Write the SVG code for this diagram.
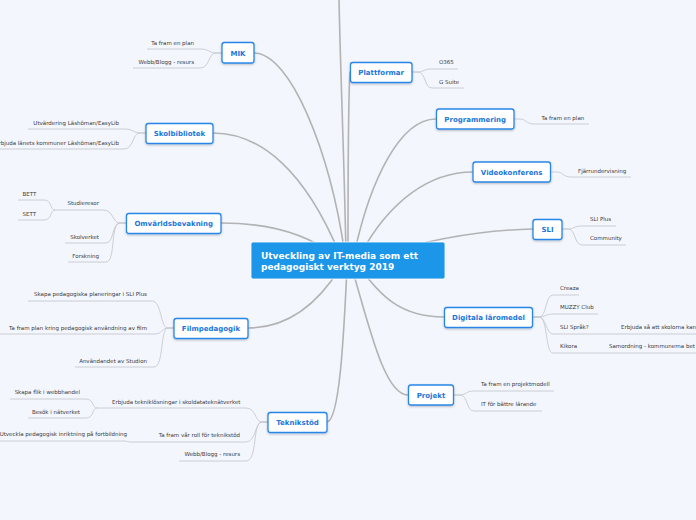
<svg xmlns="http://www.w3.org/2000/svg" width="696" height="520" viewBox="0 0 696 520">
<defs>
<filter id="sh" x="-20%" y="-30%" width="140%" height="170%">
<feDropShadow dx="0" dy="1" stdDeviation="0.8" flood-color="#000" flood-opacity="0.25"/>
</filter>
<style>
.main{fill:none;stroke:#b3b3b3;stroke-width:1.6;stroke-linecap:round}
.sub{fill:none;stroke:#c6c9cf;stroke-width:0.9}
.box{fill:#ffffff;stroke:#2a86e6;stroke-width:1.3}
.lbl{font-family:"DejaVu Sans",Verdana,sans-serif;font-weight:bold;font-size:7px;fill:#1a76d8;text-anchor:middle}
.t{font-family:"DejaVu Sans",Verdana,sans-serif;font-size:5.5px;fill:#3a3a3a}
.e{text-anchor:end}
.ctr{font-family:"DejaVu Sans",Verdana,sans-serif;font-weight:bold;font-size:9px;fill:#ffffff}
</style>
</defs>
<rect width="696" height="520" fill="#f3f6fd"/>
<g id="connectors">
<path class="main" d="M339 -2 C340 60,344 150,346 255"/>
<path class="main" d="M254 53 C290 53,330 150,345 255"/>
<path class="main" d="M213 133 C260 133,305 170,340 255"/>
<path class="main" d="M221 223 C270 223,310 235,338 258"/>
<path class="main" d="M248 328 C290 328,320 300,340 268"/>
<path class="main" d="M327 422 C340 420,344 330,347 268"/>
<path class="main" d="M350 72 C348 100,348 200,348 255"/>
<path class="main" d="M436 119 C400 119,370 180,354 255"/>
<path class="main" d="M473 172 C430 172,390 200,360 255"/>
<path class="main" d="M533 229 C490 230,440 236,380 255"/>
<path class="main" d="M444 317 C400 317,380 295,360 268"/>
<path class="main" d="M408 395 C385 395,370 330,352 268"/>
<path class="sub" d="M222 53 L216 53 C210 53,208 49,201 49 L147 49"/>
<path class="sub" d="M222 53 L216 53 C208 53,210 68,200 68 L133 68"/>
<path class="sub" d="M146 133 L140 133 C134 133,132 129,126 129 L28 129"/>
<path class="sub" d="M146 133 L140 133 C132 133,134 149,124 149 L-2 149"/>
<path class="sub" d="M126 223 L120 223 C112 223,114 210,103 210 L55 210"/>
<path class="sub" d="M55 210 C50 210,52 200,44 200 L18 200"/>
<path class="sub" d="M55 210 C50 210,52 220,44 220 L18 220"/>
<path class="sub" d="M126 223 L120 223 C112 223,114 243,106 243 L65 243"/>
<path class="sub" d="M126 223 L120 223 C110 223,116 262,106 262 L68 262"/>
<path class="sub" d="M174 328 L168 328 C160 328,162 301,152 301 L28 301"/>
<path class="sub" d="M174 328 L168 328 C162 328,162 334,155 334 L-2 334"/>
<path class="sub" d="M174 328 L168 328 C160 328,164 367,154 367 L75 367"/>
<path class="sub" d="M268 422 L262 422 C255 422,256 408,246 408 L97 408"/>
<path class="sub" d="M97 408 C92 408,94 399,86 399 L10 399"/>
<path class="sub" d="M97 408 C92 408,94 418,86 418 L28 418"/>
<path class="sub" d="M268 422 L262 422 C255 422,256 442,246 442 L130 442 C128 442,127 441,125 441 L-2 441"/>
<path class="sub" d="M268 422 L262 422 C252 422,258 461,246 461 L179 461"/>
<path class="sub" d="M412 72 L418 72 C424 72,424 69,430 69 L458 69"/>
<path class="sub" d="M412 72 L418 72 C426 72,424 88,432 88 L464 88"/>
<path class="sub" d="M514 119 L520 119 C526 119,526 124,534 124 L589 124"/>
<path class="sub" d="M551 172 L557 172 C563 172,563 177,571 177 L631 177"/>
<path class="sub" d="M562 229 L568 229 C574 229,574 226,581 226 L616 226"/>
<path class="sub" d="M562 229 L568 229 C576 229,574 245,582 245 L626 245"/>
<path class="sub" d="M533 317 L539 317 C547 317,545 295,553 295 L579 295"/>
<path class="sub" d="M533 317 L539 317 C545 317,546 314,553 314 L598 314"/>
<path class="sub" d="M533 317 L539 317 C546 317,546 334,553 334 L700 334"/>
<path class="sub" d="M533 317 L539 317 C548 317,545 353,553 353 L700 353"/>
<path class="sub" d="M454 395 L460 395 C466 395,466 391,474 391 L554 391"/>
<path class="sub" d="M454 395 L460 395 C468 395,466 411,474 411 L542 411"/>
</g>
<g id="center">
<rect x="251" y="242" width="194" height="37" rx="2" fill="#1b96e8" stroke="#ffffff" stroke-width="0.8"/>
<text class="ctr" x="261" y="259">Utveckling av IT-media som ett</text>
<text class="ctr" x="261" y="270">pedagogiskt verktyg 2019</text>
</g>
<g id="mik"><rect class="box" filter="url(#sh)" x="222" y="42.5" width="32" height="20.5" rx="2.5"/><text class="lbl" x="238" y="55.5">MIK</text></g>
<g id="skolbibliotek"><rect class="box" filter="url(#sh)" x="146" y="123.5" width="67" height="20" rx="2.5"/><text class="lbl" x="179.5" y="136">Skolbibliotek</text></g>
<g id="omvarld"><rect class="box" filter="url(#sh)" x="126.5" y="213.5" width="94.5" height="20" rx="2.5"/><text class="lbl" x="173.7" y="226">Omvärldsbevakning</text></g>
<g id="filmpedagogik"><rect class="box" filter="url(#sh)" x="174" y="318.5" width="74" height="20" rx="2.5"/><text class="lbl" x="211" y="331">Filmpedagogik</text></g>
<g id="teknikstod"><rect class="box" filter="url(#sh)" x="268" y="412.5" width="59" height="20" rx="2.5"/><text class="lbl" x="297.5" y="425">Teknikstöd</text></g>
<g id="plattformar"><rect class="box" filter="url(#sh)" x="350.5" y="62.5" width="61.5" height="20" rx="2.5"/><text class="lbl" x="381.2" y="75">Plattformar</text></g>
<g id="programmering"><rect class="box" filter="url(#sh)" x="436.5" y="109" width="77.5" height="20" rx="2.5"/><text class="lbl" x="475.2" y="121.5">Programmering</text></g>
<g id="videokonferens"><rect class="box" filter="url(#sh)" x="473" y="162" width="77.5" height="20" rx="2.5"/><text class="lbl" x="511.7" y="174.5">Videokonferens</text></g>
<g id="sli"><rect class="box" filter="url(#sh)" x="533" y="219.5" width="29" height="20" rx="2.5"/><text class="lbl" x="547.5" y="232">SLI</text></g>
<g id="digitala"><rect class="box" filter="url(#sh)" x="444.5" y="307.5" width="88" height="20" rx="2.5"/><text class="lbl" x="488.5" y="320">Digitala läromedel</text></g>
<g id="projekt"><rect class="box" filter="url(#sh)" x="408.5" y="385" width="45" height="20" rx="2.5"/><text class="lbl" x="431" y="397.5">Projekt</text></g>
<g id="mik-1"><text class="t e" x="194" y="45">Ta fram en plan</text></g>
<g id="mik-2"><text class="t e" x="194" y="64">Webb/Blogg - resurs</text></g>
<g id="skol-1"><text class="t e" x="119" y="125">Utvärdering Läshöman/EasyLib</text></g>
<g id="skol-2"><text class="t e" x="119" y="145">Erbjuda länets kommuner Läshöman/EasyLib</text></g>
<g id="omv-1"><text class="t e" x="99" y="205">Studieresor</text></g>
<g id="omv-1a"><text class="t" x="22.5" y="195.5">BETT</text></g>
<g id="omv-1b"><text class="t" x="22.5" y="215.5">SETT</text></g>
<g id="omv-2"><text class="t e" x="99" y="238.5">Skolverket</text></g>
<g id="omv-3"><text class="t e" x="99" y="257.5">Forskning</text></g>
<g id="film-1"><text class="t e" x="147" y="296">Skapa pedagogiska planeringar i SLI Plus</text></g>
<g id="film-2"><text class="t e" x="147" y="329.5">Ta fram plan kring pedagogisk användning av film</text></g>
<g id="film-3"><text class="t e" x="147" y="363">Användandet av Studion</text></g>
<g id="tek-1"><text class="t e" x="240.5" y="403.5">Erbjuda tekniklösningar i skoldatateknätverket</text></g>
<g id="tek-1a"><text class="t e" x="80" y="394">Skapa flik i webbhandel</text></g>
<g id="tek-1b"><text class="t e" x="80" y="413.5">Besök i nätverket</text></g>
<g id="tek-2"><text class="t e" x="240" y="437">Ta fram vår roll för teknikstöd</text></g>
<g id="tek-2a"><text class="t e" x="127" y="436">Utveckla pedagogisk inriktning på fortbildning</text></g>
<g id="tek-3"><text class="t e" x="240" y="456">Webb/Blogg - resurs</text></g>
<g id="plat-1"><text class="t" x="439" y="64">O365</text></g>
<g id="plat-2"><text class="t" x="439" y="83.5">G Suite</text></g>
<g id="prog-1"><text class="t" x="541.5" y="119.5">Ta fram en plan</text></g>
<g id="video-1"><text class="t" x="578" y="172.5">Fjärrundervisning</text></g>
<g id="sli-1"><text class="t" x="590" y="221">SLI Plus</text></g>
<g id="sli-2"><text class="t" x="590" y="240">Community</text></g>
<g id="dig-1"><text class="t" x="560" y="289.5">Creaza</text></g>
<g id="dig-2"><text class="t" x="560" y="309">MUZZY Club</text></g>
<g id="dig-3"><text class="t" x="560" y="329">SLI Språk?</text></g>
<g id="dig-3a"><text class="t" x="621" y="329">Erbjuda så att skolorna kan</text></g>
<g id="dig-4"><text class="t" x="560" y="348">Kikora</text></g>
<g id="dig-4a"><text class="t" x="609" y="348">Samordning - kommunerna bet</text></g>
<g id="proj-1"><text class="t" x="481" y="386">Ta fram en projektmodell</text></g>
<g id="proj-2"><text class="t" x="481" y="405.5">IT för bättre lärande</text></g>
</svg>
